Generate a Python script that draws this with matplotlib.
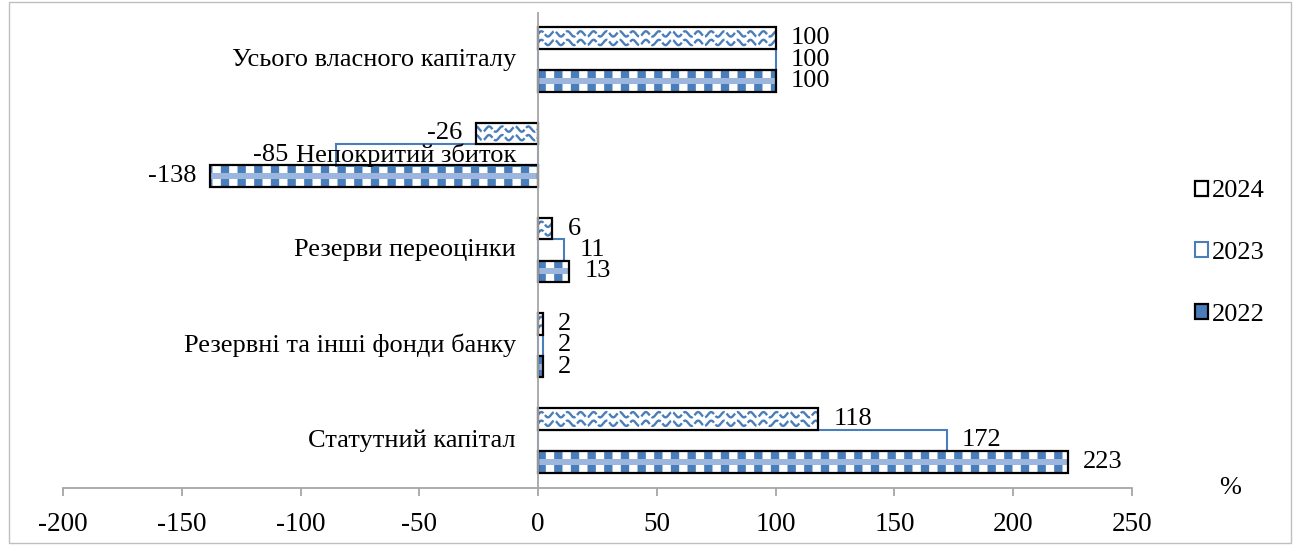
import numpy as np
import matplotlib.pyplot as plt
from matplotlib.patches import Rectangle, Patch

plt.rcParams['font.family'] = ['Liberation Serif', 'DejaVu Serif']
plt.rcParams['font.size'] = 19
BLUE = '#4A7EBB'
plt.rcParams['hatch.color'] = BLUE
plt.rcParams['hatch.linewidth'] = 6

# data (bottom to top, as on the chart)
categories = ['Статутний капітал', 'Резервні та інші фонди банку',
              'Резерви переоцінки', 'Непокритий збиток',
              'Усього власного капіталу']
v2022 = [223, 2, 13, -138, 100]
v2023 = [172, 2, 11, -85, 100]
v2024 = [118, 2, 6, -26, 100]
xticks = [-200, -150, -100, -50, 0, 50, 100, 150, 200, 250]

fig = plt.figure(figsize=(13, 5.45), dpi=100)
ax = fig.add_axes([63 / 1300, 1 - 488 / 545, (1132 - 63) / 1300, (488 - 12) / 545])

y = np.arange(len(categories))
h = 0.226
off = 0.225

# 2022 - blue blocks with a fine middle band, black outline
ax.barh(y - off, v2022, height=h, color='white', hatch='|', zorder=2)
ax.barh(y - off, v2022, height=h * 0.28, color='#9DB6DD', zorder=2.1)
ax.barh(y - off, v2022, height=h, fill=False, edgecolor='black', linewidth=1.6, zorder=3)

# 2023 - white with blue outline
ax.barh(y, v2023, height=h, color='white', edgecolor=BLUE, linewidth=1.5, zorder=2)

# 2024 - blue waves, black outline
bars24 = ax.barh(y + off, v2024, height=h, color='white', zorder=2)
for rect, v in zip(bars24, v2024):
    x0, x1 = min(0, v), max(0, v)
    xs = np.linspace(x0 - 6, x1 + 6, 400)
    yc = rect.get_y() + rect.get_height() / 2
    for row in (-0.045, 0.045):
        ln, = ax.plot(xs, yc + row + 0.028 * np.sin(2 * np.pi * xs / 5.5),
                      color=BLUE, lw=1.7, dashes=(5, 1), zorder=2.2)
        ln.set_clip_path(rect)
ax.barh(y + off, v2024, height=h, fill=False, edgecolor='black', linewidth=1.6, zorder=3)

# category labels next to the zero line
cat_texts = []
for yi, cat in zip(y, categories):
    t = ax.annotate(cat, xy=(0, yi), xytext=(-16, 0), textcoords='offset points',
                    ha='right', va='center', zorder=6)
    cat_texts.append(t)

# value labels
val_texts = []
for vals, dy in ((v2022, -off), (v2023, 0), (v2024, off)):
    for i, (yi, v) in enumerate(zip(y, vals)):
        t = ax.annotate(str(v), xy=(v, yi + dy), xytext=(11 if v >= 0 else -10, 0),
                        textcoords='offset points', ha='left' if v >= 0 else 'right',
                        va='center', zorder=6)
        val_texts.append((i, v, t))

ax.axvline(0, color='#A6A6A6', lw=1.3, zorder=4)
ax.set_xlim(-200, 250)
ax.set_ylim(-0.5, 4.5)
ax.set_xticks(xticks)
ax.set_xticklabels([str(t) for t in xticks])
ax.set_yticks([])
for s in ('top', 'right', 'left'):
    ax.spines[s].set_visible(False)
ax.spines['bottom'].set_color('#A6A6A6')
ax.spines['bottom'].set_linewidth(1.3)
ax.tick_params(axis='x', direction='out', length=6, width=1.3, color='#A6A6A6',
               pad=11, labelsize=19.5)

fig.text(1230 / 1300, 1 - 488 / 545, '%', ha='center', va='center')

# push a negative label that sits on the category name to its left
fig.canvas.draw()
r = fig.canvas.get_renderer()
for i, v, t in val_texts:
    if v >= 0:
        continue
    cb = cat_texts[i].get_window_extent(r)
    tb = t.get_window_extent(r)
    ymid = (tb.y0 + tb.y1) / 2
    if tb.x1 > cb.x0 and cb.y0 < ymid < cb.y1:
        shift = tb.x1 - (cb.x0 - 7)
        ox, oy = t.xyann
        t.xyann = (ox - shift * 72 / fig.dpi, oy)

# legend
h22 = (Patch(facecolor=BLUE, edgecolor='none'),
       Patch(fill=False, edgecolor='black', linewidth=1.6))
h23 = Patch(facecolor='white', edgecolor=BLUE, linewidth=1.5)
h24 = (Patch(facecolor='white', hatch='\\', edgecolor='none'),
       Patch(fill=False, edgecolor='black', linewidth=1.6))
if hasattr(h24[0], 'set_hatch_linewidth'):
    h24[0].set_hatch_linewidth(1.5)
fig.legend([h24, h23, h22], ['2024', '2023', '2022'], loc='center left',
           bbox_to_anchor=(1195 / 1300, 1 - 253 / 545), frameon=False,
           handlelength=0.5, handleheight=0.5, handletextpad=0.15,
           labelspacing=1.5, borderpad=0, borderaxespad=0)

fig.patches.append(Rectangle((0.007, 0.004), 0.986, 0.992, transform=fig.transFigure,
                             fill=False, edgecolor='#BFBFBF', lw=1))

fig.savefig('out.png', dpi=100)
